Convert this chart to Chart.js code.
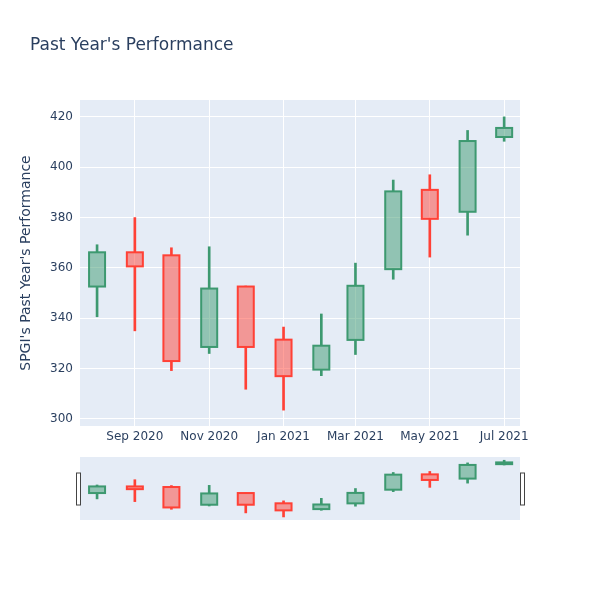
<!DOCTYPE html>
<html>
<head>
<meta charset="utf-8">
<script src="https://cdn.jsdelivr.net/npm/chart.js@4/dist/chart.umd.min.js"></script>
<style>
  body { margin: 0; background: #fff; }
  #wrap { position: relative; width: 600px; height: 600px; }
  #title { position: absolute; left: 30px; top: 34px; font: 17px "DejaVu Sans", sans-serif; color: #2a3f5f; }
  #main { position: absolute; left: 0; top: 0; }
  #slider { position: absolute; left: 0; top: 450px; }
</style>
</head>
<body>
<div id="wrap">
  <canvas id="main" width="600" height="450"></canvas>
  <canvas id="slider" width="600" height="80"></canvas>
  <div id="title">Past Year's Performance</div>
</div>
<script>
// monthly candles
var dates = ["2020-08-01", "2020-09-01", "2020-10-01", "2020-11-01", "2020-12-01", "2021-01-01",
             "2021-02-01", "2021-03-01", "2021-04-01", "2021-05-01", "2021-06-01", "2021-07-01"];
var open  = [352.6, 366.2, 365.0, 328.6, 352.6, 331.5, 319.6, 331.4, 359.5, 391.0, 382.3, 412.0];
var high  = [369.2, 380.0, 368.0, 368.4, 352.8, 336.5, 341.7, 361.9, 394.9, 397.0, 414.6, 420.0];
var low   = [340.6, 335.0, 319.2, 326.0, 311.8, 303.5, 317.2, 325.6, 355.5, 364.3, 373.0, 410.3];
var close = [366.2, 360.6, 323.0, 351.8, 328.6, 317.0, 329.1, 352.9, 390.4, 379.5, 410.4, 415.6];

var tickDates  = ["2020-09-01", "2020-11-01", "2021-01-01", "2021-03-01", "2021-05-01", "2021-07-01"];
var tickLabels = ["Sep 2020", "Nov 2020", "Jan 2021", "Mar 2021", "May 2021", "Jul 2021"];
var yTicks = [300, 320, 340, 360, 380, 400, 420];

var xMin = Date.parse("2020-07-18");
var xMax = Date.parse("2021-07-14");
var yMin = 297.2, yMax = 426.7;

var up = "#3D9970", down = "#FF4136";
var upFill = "rgba(61,153,112,0.5)", downFill = "rgba(255,65,54,0.5)";
var font = "DejaVu Sans";
var ink = "#2a3f5f";

function isUp(i) { return close[i] >= open[i]; }

function buildDatasets() {
    var bodies = [], upper = [], lower = [], lineCols = [], fillCols = [];
    for (var i = 0; i < dates.length; i++) {
        var x = Date.parse(dates[i]);
        var top = Math.max(open[i], close[i]);
        var bot = Math.min(open[i], close[i]);
        bodies.push({ x: x, y: [open[i], close[i]] });
        upper.push({ x: x, y: [top, high[i]] });
        lower.push({ x: x, y: [low[i], bot] });
        lineCols.push(isUp(i) ? up : down);
        fillCols.push(isUp(i) ? upFill : downFill);
    }
    return [
        { data: upper, backgroundColor: lineCols, borderWidth: 0, barThickness: 2, grouped: false, order: 2 },
        { data: lower, backgroundColor: lineCols, borderWidth: 0, barThickness: 2, grouped: false, order: 2 },
        { data: bodies, backgroundColor: fillCols, borderWidth: 0, barThickness: 16, grouped: false,
          order: 1, outline: lineCols }
    ];
}

// fill plot area with plotly's light blue
var plotBg = {
    id: "plotBg",
    beforeDraw: function(chart) {
        var a = chart.chartArea, ctx = chart.ctx;
        ctx.save();
        ctx.fillStyle = "#E5ECF6";
        ctx.fillRect(a.left, a.top, a.right - a.left, a.bottom - a.top);
        ctx.restore();
    }
};

// stroke the candle bodies centred on their edges, like plotly does
var outlines = {
    id: "outlines",
    afterDatasetsDraw: function(chart) {
        var ctx = chart.ctx;
        ctx.save();
        ctx.lineWidth = 2;
        chart.data.datasets.forEach(function(ds, di) {
            if (!ds.outline) return;
            chart.getDatasetMeta(di).data.forEach(function(el, i) {
                var w = el.width, t = Math.min(el.y, el.base), h = Math.abs(el.base - el.y);
                ctx.strokeStyle = ds.outline[i];
                ctx.strokeRect(el.x - w / 2, t, w, h);
            });
        });
        ctx.restore();
    }
};

// range slider grab handles
var handles = {
    id: "handles",
    afterDraw: function(chart) {
        var a = chart.chartArea, ctx = chart.ctx;
        var mid = (a.top + a.bottom) / 2;
        ctx.save();
        ctx.fillStyle = "#fff";
        ctx.strokeStyle = "#444";
        ctx.lineWidth = 1;
        [a.left - 2, a.right + 2].forEach(function(cx) {
            ctx.fillRect(cx - 2, mid - 16, 4, 32);
            ctx.strokeRect(cx - 2 + 0.5, mid - 16 + 0.5, 4, 32);
        });
        ctx.restore();
    }
};

Chart.defaults.font.family = font;
Chart.defaults.color = ink;

new Chart(document.getElementById("main"), {
    type: "bar",
    data: { datasets: buildDatasets() },
    options: {
        responsive: false,
        animation: false,
        layout: { padding: { top: 100, right: 80, left: 0, bottom: 0 } },
        plugins: { legend: { display: false }, tooltip: { enabled: false } },
        scales: {
            x: {
                type: "linear",
                min: xMin, max: xMax,
                offset: false,
                afterFit: function(s) { s.height = 24; },
                afterBuildTicks: function(s) {
                    s.ticks = tickDates.map(function(d) { return { value: Date.parse(d) }; });
                },
                ticks: {
                    padding: 4,
                    maxRotation: 0,
                    font: { size: 12 },
                    color: ink,
                    callback: function(v, i) { return tickLabels[i]; }
                },
                grid: { color: "#fff", lineWidth: 1, drawTicks: false, offset: false },
                border: { display: false }
            },
            y: {
                min: yMin, max: yMax,
                afterFit: function(s) { s.width = 80; },
                afterBuildTicks: function(s) {
                    s.ticks = yTicks.map(function(v) { return { value: v }; });
                },
                ticks: { padding: 7, font: { size: 12 }, color: ink },
                grid: { color: "#fff", lineWidth: 1, drawTicks: false },
                border: { display: false },
                title: {
                    display: true,
                    text: "SPGI's Past Year's Performance",
                    font: { size: 14 },
                    color: ink,
                    padding: { top: 18, bottom: 0 }
                }
            }
        }
    },
    plugins: [plotBg, outlines]
});

new Chart(document.getElementById("slider"), {
    type: "bar",
    data: { datasets: buildDatasets() },
    options: {
        responsive: false,
        animation: false,
        layout: { padding: { top: 7, right: 80, left: 80, bottom: 10 } },
        plugins: { legend: { display: false }, tooltip: { enabled: false } },
        scales: {
            x: { type: "linear", min: xMin, max: xMax, offset: false, display: false },
            y: { min: yMin, max: yMax, display: false }
        }
    },
    plugins: [plotBg, outlines, handles]
});
</script>
</body>
</html>
